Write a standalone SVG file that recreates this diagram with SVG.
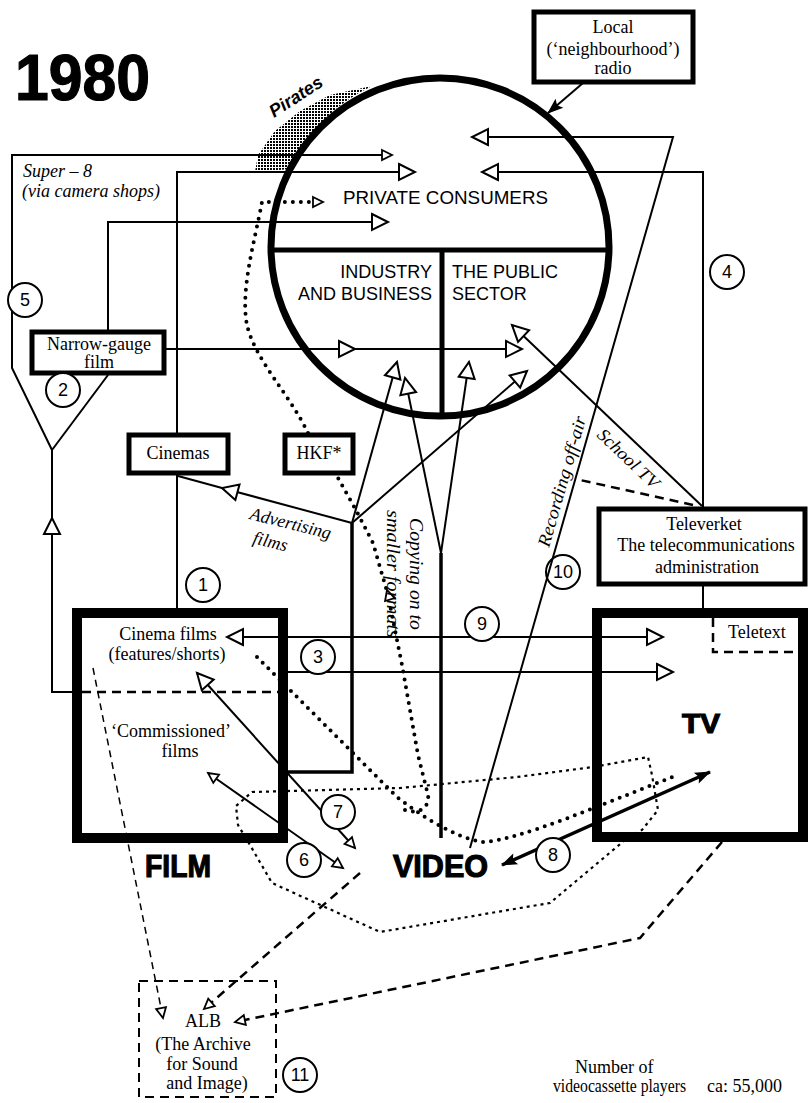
<svg xmlns="http://www.w3.org/2000/svg" width="812" height="1103" viewBox="0 0 812 1103">
<style>
.l{fill:none;stroke:#000;stroke-width:2}
.thk{fill:none;stroke:#000;stroke-width:3.5}
.dot{fill:none;stroke:#000;stroke-width:4;stroke-linecap:round;stroke-dasharray:0 8}
.tdot{fill:none;stroke:#000;stroke-width:2.2;stroke-dasharray:3 4}
.dash{fill:none;stroke:#000;stroke-width:2.5;stroke-dasharray:9 6}
.tdash{fill:none;stroke:#000;stroke-width:1.5;stroke-dasharray:7 5}
.box{fill:#fff;stroke:#000;stroke-width:5}
.big{fill:none;stroke:#000;stroke-width:10}
.num{fill:#fff;stroke:#000;stroke-width:2}
.t{font-family:"Liberation Serif",serif;font-size:18px;fill:#000}
.c{text-anchor:middle}
.i{font-style:italic}
.s{font-family:"Liberation Sans",sans-serif;font-size:18px;fill:#000}
.b{font-family:"Liberation Sans",sans-serif;font-weight:bold;fill:#000;stroke:#000;stroke-width:1.2}
.n{font-family:"Liberation Sans",sans-serif;font-size:18px;text-anchor:middle;fill:#000}
</style>
<defs>
<marker id="oa" viewBox="0 0 18 18" refX="17" refY="9" markerWidth="18" markerHeight="18" markerUnits="userSpaceOnUse" orient="auto-start-reverse" overflow="visible"><path d="M1,1 L17,9 L1,17 Z" fill="#fff" stroke="#000" stroke-width="2"/></marker>
<marker id="os" viewBox="0 0 12 12" refX="11" refY="6" markerWidth="12" markerHeight="12" markerUnits="userSpaceOnUse" orient="auto-start-reverse" overflow="visible"><path d="M1,1 L11,6 L1,11 Z" fill="#fff" stroke="#000" stroke-width="1.8"/></marker>
<marker id="fa" viewBox="0 0 16 12" refX="15" refY="6" markerWidth="16" markerHeight="12" markerUnits="userSpaceOnUse" orient="auto-start-reverse" overflow="visible"><path d="M0,0 L16,6 L0,12 L3,6 Z" fill="#000"/></marker>
<pattern id="stip" width="3" height="3" patternUnits="userSpaceOnUse"><rect width="2" height="2" fill="#000"/></pattern>
</defs>
<rect width="812" height="1103" fill="#fff"/>

<text class="b" x="15" y="100" font-size="65" textLength="135" lengthAdjust="spacingAndGlyphs">1980</text>

<g id="pirates">
<path d="M255,172 L258,155 L275,131 L300,111 L330,95 L372,86 A169,169 0 0,0 290,169 Z" fill="url(#stip)"/>
<text class="s i" font-weight="bold" font-size="15" transform="translate(274,118) rotate(-33)">Pirates</text>
</g>

<g id="connectors">
<path class="l" d="M72,692 L52,692 L52,518" marker-end="url(#oa)"/>
<path class="l" d="M52,518 L52,450 L12,368 L12,155 L392,155" marker-end="url(#os)"/>
<path class="l" d="M108,375 L52,450"/>
<path class="l" d="M177,608 L177,172 L415,172" marker-end="url(#oa)"/>
<path class="l" d="M108,330 L108,222 L388,222" marker-end="url(#oa)"/>
<path class="l" d="M166,349 L355,349" marker-end="url(#oa)"/>
<path class="l" d="M355,349 L522,349" marker-end="url(#oa)"/>
<path class="l" d="M703,507 L703,172 L482,172" marker-end="url(#oa)"/>
<path class="l" d="M470,848 L673,137 L472,137" marker-end="url(#oa)"/>
<path class="l" d="M702,506 L512,325" marker-end="url(#oa)"/>
<path class="dash" d="M693,505 L580,480" stroke-width="2"/>
<path class="l" d="M583,83 L548,113" marker-end="url(#fa)"/>
<path class="l" d="M352,523 L397,362" marker-end="url(#oa)"/>
<path class="l" d="M352,523 L527,371" marker-end="url(#oa)"/>
<path class="l" d="M352,523 L222,488" marker-end="url(#oa)"/>
<path class="l" d="M222,488 L178,476"/>
<path class="thk" d="M286,772 L352,772 L352,523" stroke-width="3"/>
<path class="thk" d="M441,838 L441,553" stroke-width="4"/>
<path class="l" d="M441,553 L405,378" marker-end="url(#oa)"/>
<path class="l" d="M441,553 L469,362" marker-end="url(#oa)"/>
<path class="l" d="M227,637 L663,637" marker-start="url(#oa)" marker-end="url(#oa)"/>
<path class="l" d="M286,672 L673,672" marker-end="url(#oa)"/>
<path class="l" d="M197,673 L355,848" marker-start="url(#oa)" marker-end="url(#os)"/>
<path class="l" d="M208,773 L343,868" marker-start="url(#os)" marker-end="url(#os)"/>
<path class="thk" d="M710,772 L502,865" stroke-width="3" marker-start="url(#fa)" marker-end="url(#fa)"/>
<path class="dot" d="M308,433 C290,395 255,360 247,325 C240,290 255,240 262,202 L316,202"/>
<path class="l" d="M316,202 L323,202" stroke-width="1" marker-end="url(#os)"/>
<path class="dot" d="M405,810 C418,815 430,808 428,795 L418,755 L402,665 L390,605"/>
<path class="l" d="M390,600 L387,590" stroke-width="1" marker-end="url(#os)"/>
<path class="dot" d="M386,588 L373,543 L357,512 L338,478"/>
<path class="dot" d="M257,657 L397,797 C420,815 455,838 483,842 C520,840 600,805 675,776"/>
<path class="tdot" d="M252,792 L400,788 L517,777 L593,767 L648,757 L652,775 L658,810 L642,830 L625,840 L550,903 L520,908 L380,932 L272,883 L250,845 L238,825 L236,806 Z"/>
<path class="dash" d="M722,842 L640,938 L235,1022" marker-end="url(#os)"/>
<path class="dash" d="M360,873 L204,1009" marker-end="url(#os)"/>
<path class="tdash" d="M93,668 L163,1018" marker-end="url(#os)"/>
<path class="l" d="M703,585 L703,608"/>
</g>

<g id="consumers">
<circle cx="440" cy="247" r="169" fill="none" stroke="#000" stroke-width="7"/>
<path d="M271,250 L609,250 M442,250 L442,416" stroke="#000" stroke-width="5" fill="none"/>
<text class="s" x="343" y="204" textLength="205" lengthAdjust="spacingAndGlyphs">PRIVATE CONSUMERS</text>
<text class="s" x="432" y="278" text-anchor="end">INDUSTRY</text>
<text class="s" x="432" y="300" text-anchor="end">AND BUSINESS</text>
<text class="s" x="452" y="278">THE PUBLIC</text>
<text class="s" x="452" y="300">SECTOR</text>
</g>

<g id="radio">
<rect class="box" x="534" y="12" width="159" height="70"/>
<text class="t c" x="613" y="33">Local</text>
<text class="t c" x="613" y="55">(‘neighbourhood’)</text>
<text class="t c" x="613" y="74">radio</text>
</g>

<g id="narrow">
<rect class="box" x="32" y="332" width="132" height="41"/>
<text class="t c" x="99" y="350">Narrow-gauge</text>
<text class="t c" x="99" y="368">film</text>
</g>

<g id="cinemas">
<rect class="box" x="129" y="435" width="99" height="38"/>
<text class="t c" x="178" y="459">Cinemas</text>
</g>

<g id="hkf">
<rect class="box" x="285" y="435" width="68" height="38"/>
<text class="t c" x="319" y="459">HKF*</text>
</g>

<g id="televerket">
<rect class="box" x="599" y="509" width="206" height="75"/>
<text class="t c" x="704" y="530">Televerket</text>
<text class="t c" x="706" y="551">The telecommunications</text>
<text class="t c" x="707" y="573">administration</text>
</g>

<g id="film">
<rect class="big" x="77" y="613" width="206" height="225"/>
<path class="dash" d="M82,692 L278,692" stroke-width="2"/>
<text class="t c" x="168" y="640">Cinema films</text>
<text class="t c" x="167" y="660">(features/shorts)</text>
<text class="t c" x="171" y="737">‘Commissioned’</text>
<text class="t c" x="180" y="757">films</text>
<text class="b" x="145" y="877" font-size="32" textLength="66" lengthAdjust="spacingAndGlyphs">FILM</text>
</g>

<g id="tv">
<rect class="big" x="597" y="613" width="206" height="224"/>
<path class="dash" d="M713,618 L713,652 L798,652" stroke-width="2"/>
<text class="t" x="728" y="638">Teletext</text>
<text class="b" x="682" y="733" font-size="28" textLength="38" lengthAdjust="spacingAndGlyphs">TV</text>
</g>

<g id="video">
<text class="b" x="393" y="877" font-size="32" textLength="95" lengthAdjust="spacingAndGlyphs">VIDEO</text>
</g>

<g id="alb">
<rect x="139" y="981" width="137" height="116" fill="none" stroke="#000" stroke-width="2" stroke-dasharray="9 6"/>
<text class="t c" x="203" y="1027">ALB</text>
<text class="t c" x="203" y="1050">(The Archive</text>
<text class="t c" x="202" y="1070">for Sound</text>
<text class="t c" x="207" y="1089">and Image)</text>
</g>

<g id="labels">
<text class="t i" x="23" y="177">Super – 8</text>
<text class="t i" x="22" y="197">(via camera shops)</text>
<text class="t i" font-size="17" transform="translate(249,519) rotate(14)">Advertising</text>
<text class="t i" font-size="17" transform="translate(252,543) rotate(14)">films</text>
<text class="t i" font-size="17" transform="translate(410,518) rotate(90)" textLength="112" lengthAdjust="spacingAndGlyphs">Copying on to</text>
<text class="t i" font-size="17" transform="translate(387,510) rotate(90)" textLength="128" lengthAdjust="spacingAndGlyphs">smaller formats</text>
<text class="t i" font-size="18" transform="translate(549,548) rotate(-74)" textLength="135" lengthAdjust="spacingAndGlyphs">Recording off-air</text>
<text class="t i" font-size="17" transform="translate(596,436) rotate(43.5)" textLength="78" lengthAdjust="spacingAndGlyphs">School TV</text>
<text class="t" font-size="16" x="575" y="1073">Number of</text>
<text class="t" font-size="16" x="553" y="1092" textLength="133" lengthAdjust="spacingAndGlyphs">videocassette players</text>
<text class="t" font-size="16" x="707" y="1092">ca: 55,000</text>
</g>

<g id="numbers">
<circle class="num" cx="203" cy="585" r="17"/><text class="n" x="203" y="591">1</text>
<circle class="num" cx="63" cy="390" r="17"/><text class="n" x="63" y="396">2</text>
<circle class="num" cx="318" cy="657" r="17"/><text class="n" x="318" y="663">3</text>
<circle class="num" cx="727" cy="272" r="17"/><text class="n" x="727" y="278">4</text>
<circle class="num" cx="25" cy="300" r="17"/><text class="n" x="25" y="306">5</text>
<circle class="num" cx="304" cy="860" r="17"/><text class="n" x="304" y="866">6</text>
<circle class="num" cx="338" cy="812" r="17"/><text class="n" x="338" y="818">7</text>
<circle class="num" cx="553" cy="855" r="17"/><text class="n" x="553" y="861">8</text>
<circle class="num" cx="482" cy="624" r="17"/><text class="n" x="482" y="630">9</text>
<circle cx="563" cy="572" r="17" fill="none" stroke="#000" stroke-width="2"/><text class="n" x="563" y="578">10</text>
<circle class="num" cx="300" cy="1075" r="17"/><text class="n" x="300" y="1081">11</text>
</g>
</svg>
